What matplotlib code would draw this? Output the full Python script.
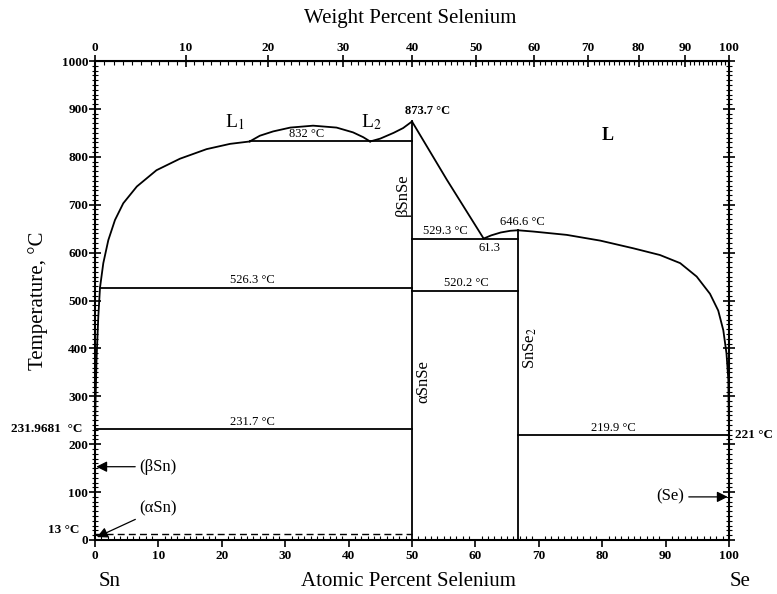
import matplotlib
matplotlib.use("Agg")
import matplotlib.pyplot as plt
import numpy as np
from matplotlib.ticker import MultipleLocator, FixedLocator

plt.rcParams['font.family'] = ['Liberation Serif', 'DejaVu Serif']
plt.rcParams['mathtext.fontset'] = 'stix'

# liquidus, Sn side up to L1
sn_liq_x = [0, 0.1, 0.25, 0.52, 0.79, 1.31, 2.1, 3.15, 4.46, 6.6, 9.7, 13.4, 17.6, 21.3, 24.4]
sn_liq_t = [231.97, 300, 380, 466, 527, 578, 626, 668, 703, 738, 772, 796, 816, 827, 832]
# miscibility gap L1 + L2
gap_x = [24.4, 26.0, 28.1, 30.8, 34.4, 38.1, 40.7, 42.3, 43.4]
gap_t = [832, 844, 853, 861, 865, 861, 851, 841, 832]
# L2 to SnSe melting point
l2_x = [43.4, 45.0, 47.1, 48.6, 50]
l2_t = [832, 838, 850, 860, 873.7]
# SnSe to eutectic
snse_liq_x = [50, 55.5, 61.3]
snse_liq_t = [873.7, 752, 629.3]
# eutectic to SnSe2
eut_x = [61.3, 62.5, 64, 65.5, 66.7]
eut_t = [629.3, 636, 642, 645.5, 646.6]
# SnSe2 to Se
se_liq_x = [66.7, 69.1, 74.4, 79.7, 84.9, 89.1, 92.3, 94.9, 97.0, 98.3, 99.1, 99.6, 99.9, 100]
se_liq_t = [646.6, 644, 637, 625, 609, 595, 578, 550, 514, 479, 438, 390, 334, 221]

# invariant lines: (x0, x1, T)
iso_x0 = [24.4, 0.8, 50, 50, 0, 66.7]
iso_x1 = [50, 50, 66.7, 66.7, 50, 100]
iso_t = [832, 526.3, 629.3, 520.2, 231.7, 219.9]

M_SN, M_SE = 118.71, 78.96


def at_to_wt(a):
    a = np.asarray(a, dtype=float)
    return 100 * a * M_SE / (a * M_SE + (100 - a) * M_SN)


def wt_to_at(w):
    w = np.asarray(w, dtype=float)
    return 100 * (w / M_SE) / (w / M_SE + (100 - w) / M_SN)


fig = plt.figure(figsize=(7.77, 5.94), dpi=100)
ax = fig.add_axes([95 / 777, 54 / 594, 634 / 777, 479 / 594])

lw = 1.3
k = 'black'
for xs, ts in [(sn_liq_x, sn_liq_t), (gap_x, gap_t), (l2_x, l2_t),
               (snse_liq_x, snse_liq_t), (eut_x, eut_t), (se_liq_x, se_liq_t)]:
    ax.plot(xs, ts, color=k, lw=lw, solid_joinstyle='round')
for x0, x1, t in zip(iso_x0, iso_x1, iso_t):
    ax.plot([x0, x1], [t, t], color=k, lw=lw)
ax.plot([50, 50], [0, 873.7], color=k, lw=lw)
ax.plot([66.7, 66.7], [0, 646.6], color=k, lw=lw)
ax.plot([0, 50], [13, 13], color=k, lw=1.0, ls=(0, (5, 3)))

ax.set_xlim(0, 100)
ax.set_ylim(0, 1000)

ax.xaxis.set_major_locator(MultipleLocator(10))
ax.xaxis.set_minor_locator(MultipleLocator(1))
ax.yaxis.set_major_locator(MultipleLocator(100))
ax.yaxis.set_minor_locator(MultipleLocator(10))
ax.tick_params(axis='x', which='major', direction='out', length=5, width=1.2, labelsize=9.5, pad=2)
ax.tick_params(axis='x', which='minor', direction='in', length=3, width=0.8)
ax.tick_params(axis='y', which='major', direction='inout', length=8, width=1.2, labelsize=9.5, pad=1,
               right=True)
ax.tick_params(axis='y', which='minor', direction='inout', length=4, width=0.8, right=True)
ax.tick_params(axis='x', top=False)
for lab in ax.get_xticklabels() + ax.get_yticklabels():
    lab.set_fontweight('bold')
for s in ax.spines.values():
    s.set_linewidth(1.5)

top = ax.secondary_xaxis('top', functions=(at_to_wt, wt_to_at))
top.xaxis.set_major_locator(FixedLocator(np.arange(0, 101, 10)))
top.xaxis.set_minor_locator(FixedLocator(np.arange(0, 101, 1)))
top.tick_params(which='major', direction='inout', length=8, width=1.2, labelsize=9.5, pad=1)
top.tick_params(which='minor', direction='in', length=3, width=0.8)
for lab in top.get_xticklabels():
    lab.set_fontweight('bold')

fs = 9
ax.text(22.0, 852, 'L$_1$', fontsize=14, ha='center', va='bottom')
ax.text(43.6, 852, 'L$_2$', fontsize=14, ha='center', va='bottom')
ax.text(33.4, 835, '832 °C', fontsize=fs, ha='center', va='bottom')
ax.text(52.4, 884, '873.7 °C', fontsize=fs, ha='center', va='bottom', fontweight='bold')
ax.text(80.8, 845, 'L', fontsize=13, ha='center', va='center', fontweight='bold')
ax.text(48.5, 720, 'βSnSe', fontsize=12, rotation=90, ha='center', va='center')
ax.text(55.2, 632, '529.3 °C', fontsize=fs, ha='center', va='bottom')
ax.text(62.3, 610, '61.3', fontsize=fs, ha='center', va='center')
ax.text(67.4, 652, '646.6 °C', fontsize=fs, ha='center', va='bottom')
ax.text(24.9, 530, '526.3 °C', fontsize=fs, ha='center', va='bottom')
ax.text(58.6, 523, '520.2 °C', fontsize=fs, ha='center', va='bottom')
ax.text(68.6, 400, 'SnSe$_2$', fontsize=12, rotation=90, ha='center', va='center')
ax.text(51.8, 330, 'αSnSe', fontsize=12, rotation=90, ha='center', va='center')
ax.text(24.9, 234, '231.7 °C', fontsize=fs, ha='center', va='bottom')
ax.text(81.7, 222, '219.9 °C', fontsize=fs, ha='center', va='bottom')
ax.text(100.9, 219.9, '221 °C', fontsize=9.5, ha='left', va='center', fontweight='bold')
ax.text(-2.0, 232, '231.9681  °C', fontsize=9.5, ha='right', va='center', fontweight='bold')
ax.text(-2.5, 20, '13 °C', fontsize=9.5, ha='right', va='center', fontweight='bold')

arrow = dict(arrowstyle='-|>', color=k, lw=0.9, mutation_scale=16, shrinkA=1, shrinkB=0)
ax.annotate('(βSn)', xy=(0.2, 153), xytext=(7.0, 153), fontsize=12, ha='left', va='center',
            arrowprops=arrow)
ax.annotate('(αSn)', xy=(0.3, 6), xytext=(7.0, 65), fontsize=12, ha='left', va='center',
            arrowprops=arrow)
ax.annotate('(Se)', xy=(99.8, 90), xytext=(93.0, 90), fontsize=12, ha='right', va='center',
            arrowprops=arrow)

ax.set_ylabel('Temperature, °C', fontsize=15, labelpad=10)
fig.text(408 / 777, 1 - 582 / 594, 'Atomic Percent Selenium', fontsize=15, ha='center', va='center')
fig.text(110 / 777, 1 - 582 / 594, 'Sn', fontsize=15, ha='center', va='center')
fig.text(740 / 777, 1 - 582 / 594, 'Se', fontsize=15, ha='center', va='center')
fig.text(410 / 777, 1 - 18 / 594, 'Weight Percent Selenium', fontsize=15, ha='center', va='center')

fig.savefig('out.png', dpi=100)
